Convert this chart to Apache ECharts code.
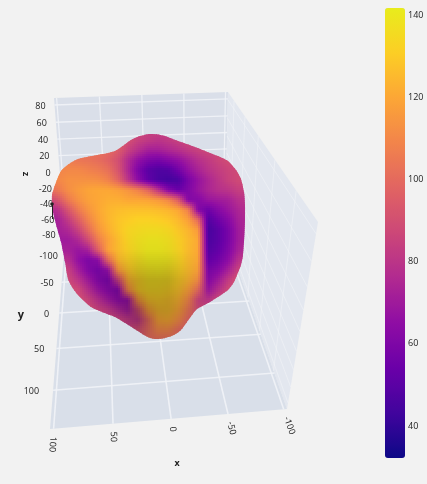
<!DOCTYPE html>
<html>
<head>
<meta charset="utf-8">
<style>
  html, body { margin: 0; padding: 0; background: #f2f2f2; }
  #chart { width: 427px; height: 484px; }
</style>
<script src="https://cdn.jsdelivr.net/npm/echarts@6/dist/echarts.min.js"></script>
</head>
<body>
<div id="chart"></div>
<script>
// tick labels
var xTicks = [100, 50, 0, -50, -100];
var yTicks = [-100, -50, 0, 50, 100];
var zTicks = [80, 60, 40, 20, 0, -20, -40, -60, -80];
var colorTicks = [40, 60, 80, 100, 120, 140];

// surface colour value, 10px apart across and down
var surfaceCols = [48, 58, 68, 78, 88, 98, 108, 118, 128, 138, 148, 158, 168, 178, 188, 198, 208, 218, 228, 238, 248];
var surfaceRows = [130, 140, 150, 160, 170, 180, 190, 200, 210, 220, 230, 240, 250, 260, 270, 280, 290, 300, 310, 320, 330, 340];
var surfaceValues = [
  [95, 95, 95, 95, 95, 95, 95, 95, 90, 88, 85, 85, 85, 88, 88, 88, 88, 88, 88, 88, 88],
  [100, 100, 100, 100, 100, 100, 100, 98, 90, 85, 82, 80, 82, 85, 88, 90, 90, 90, 90, 90, 90],
  [105, 105, 105, 105, 103, 102, 100, 95, 85, 78, 72, 72, 75, 78, 82, 85, 87, 88, 88, 88, 88],
  [106, 106, 106, 104, 103, 101, 97, 90, 76, 66, 60, 58, 62, 66, 72, 78, 82, 86, 89, 90, 90],
  [108, 109, 110, 110, 108, 106, 102, 92, 75, 60, 50, 47, 48, 56, 66, 73, 79, 83, 86, 88, 88],
  [108, 110, 113, 113, 113, 112, 108, 98, 80, 64, 52, 46, 44, 46, 58, 67, 74, 80, 85, 88, 88],
  [100, 105, 112, 116, 119, 120, 120, 118, 114, 108, 98, 80, 62, 54, 60, 68, 74, 78, 80, 84, 84],
  [85, 92, 105, 113, 118, 120, 122, 122, 120, 120, 119, 116, 110, 95, 62, 62, 68, 70, 72, 78, 80],
  [75, 78, 92, 105, 114, 120, 124, 126, 127, 127, 127, 126, 124, 120, 108, 62, 55, 62, 68, 74, 78],
  [70, 72, 82, 95, 108, 118, 124, 128, 130, 132, 132, 131, 129, 125, 118, 100, 48, 55, 62, 72, 76],
  [70, 72, 75, 85, 100, 114, 122, 128, 133, 135, 136, 136, 134, 129, 124, 116, 45, 50, 58, 70, 76],
  [70, 70, 70, 75, 88, 106, 118, 126, 133, 137, 139, 139, 137, 132, 126, 120, 46, 50, 58, 70, 76],
  [72, 72, 72, 68, 72, 95, 118, 126, 132, 137, 140, 140, 138, 133, 126, 120, 48, 52, 60, 72, 78],
  [78, 78, 78, 66, 60, 64, 100, 124, 131, 136, 140, 140, 139, 134, 126, 120, 52, 56, 64, 78, 84],
  [85, 85, 85, 72, 62, 58, 66, 115, 128, 135, 138, 139, 137, 133, 126, 118, 58, 62, 72, 85, 90],
  [88, 88, 88, 80, 70, 61, 58, 85, 122, 131, 136, 136, 135, 131, 124, 112, 62, 70, 82, 92, 92],
  [90, 90, 90, 88, 78, 68, 62, 60, 110, 130, 134, 134, 132, 128, 118, 100, 68, 78, 88, 92, 92],
  [90, 90, 90, 90, 86, 78, 70, 64, 66, 115, 128, 130, 128, 124, 110, 85, 80, 88, 92, 92, 92],
  [90, 90, 90, 90, 90, 86, 82, 75, 70, 90, 118, 126, 127, 120, 104, 88, 88, 90, 92, 92, 92],
  [90, 90, 90, 90, 90, 90, 88, 86, 82, 80, 100, 120, 122, 112, 98, 92, 92, 92, 92, 92, 92],
  [90, 90, 90, 90, 90, 90, 90, 88, 86, 90, 100, 110, 110, 100, 94, 92, 92, 92, 92, 92, 92],
  [90, 90, 90, 90, 90, 90, 90, 90, 90, 90, 100, 100, 100, 100, 92, 92, 92, 92, 92, 92, 92]
];

// how much the lower lobe is darkened by the scene light, 30px apart
var lightCols = [48, 78, 108, 138, 168, 198, 228, 258];
var lightRows = [130, 160, 190, 220, 250, 280, 310, 340];
var lightValues = [
  [1, 1, 1, 1, 1, 1, 1, 1],
  [1, 1, 1, 1, 1, 1, 1, 1],
  [1, 1, 1, 1, 1, 1, 1, 1],
  [1, 1, 1, 1, 1, 1, 1, 1],
  [1, 1, 1, 0.95, 0.95, 1, 1, 1],
  [1, 1, 0.9, 0.76, 0.76, 0.95, 1, 1],
  [1, 1, 0.9, 0.74, 0.74, 0.92, 1, 1],
  [1, 1, 1, 0.85, 0.85, 1, 1, 1]
];

// edge of the blob in the flat plot plane
var blobOutline = [
  [150, 134], [158, 134.5], [165, 136], [178, 141], [195, 147], [210, 153], [220, 157], [228, 161], [236, 170], [241, 179], [244, 192],
  [245, 205], [245, 220], [244, 242], [243, 255], [241, 265], [234, 282], [228, 290], [221, 295], [210, 302], [197, 309], [192, 315], [187, 322],
  [181, 330], [174, 335], [165, 338], [157, 339], [150, 338], [144, 335], [130, 326], [115, 317], [102, 312], [91, 307], [78, 295], [72, 287], [68, 279],
  [65, 262], [61, 242], [57, 228], [53, 212], [52, 203], [52, 195], [55, 185], [61, 171], [69, 164], [78, 159], [92, 156], [108, 153], [115, 151], [120, 148],
  [131, 140], [140, 136]
];

var plasma = ['#0d0887', '#41049d', '#6a00a8', '#8f0da4', '#b12a90', '#cc4778', '#e16462', '#f2844b', '#fca636', '#fcce25', '#e8ec1c'];
var colorMin = 32.2;
var colorMax = 141.7;

// panel corners on the page: top/back left, top/back right, bottom/front right, bottom/front left
var wallQuad = [[54, 98], [228, 92], [225, 232], [65, 240]];
var floorQuad = [[65, 240], [225, 232], [287, 409], [50, 429]];
var sideQuad = [[228, 92], [318, 222], [287, 409], [225, 232]];
var xRange = [103, -103];
var yRange = [-132, 140];
var zRange = [88, -88];

function homography(q) {
  var dx1 = q[1][0] - q[2][0], dx2 = q[3][0] - q[2][0], sx = q[0][0] - q[1][0] + q[2][0] - q[3][0];
  var dy1 = q[1][1] - q[2][1], dy2 = q[3][1] - q[2][1], sy = q[0][1] - q[1][1] + q[2][1] - q[3][1];
  var den = dx1 * dy2 - dx2 * dy1;
  var g = (sx * dy2 - dx2 * sy) / den;
  var h = (dx1 * sy - sx * dy1) / den;
  var a = q[1][0] - q[0][0] + g * q[1][0], b = q[3][0] - q[0][0] + h * q[3][0];
  var d = q[1][1] - q[0][1] + g * q[1][1], e = q[3][1] - q[0][1] + h * q[3][1];
  return function (u, v) {
    var w = g * u + h * v + 1;
    return [(a * u + b * v + q[0][0]) / w, (d * u + e * v + q[0][1]) / w];
  };
}
function frac(val, range) {
  return (val - range[0]) / (range[1] - range[0]);
}

var wallAt = homography(wallQuad);
var floorAt = homography(floorQuad);
var sideAt = homography(sideQuad);

function hexRgb(h) {
  return [parseInt(h.substr(1, 2), 16), parseInt(h.substr(3, 2), 16), parseInt(h.substr(5, 2), 16)];
}
var plasmaRgb = plasma.map(hexRgb);

function plasmaColor(val, light) {
  var t = Math.max(0, Math.min(1, (val - colorMin) / (colorMax - colorMin))) * (plasmaRgb.length - 1);
  var i = Math.min(plasmaRgb.length - 2, Math.floor(t));
  var f = t - i;
  var c = [0, 1, 2].map(function (k) {
    return Math.round((plasmaRgb[i][k] + (plasmaRgb[i + 1][k] - plasmaRgb[i][k]) * f) * light);
  });
  return 'rgb(' + c.join(',') + ')';
}

// smooth shading between the values that were read, like the lit surface
function sample(cols, rows, grid, x, y) {
  var step = cols[1] - cols[0];
  var stepY = rows[1] - rows[0];
  var cx = Math.max(0, Math.min(cols.length - 1.001, (x - cols[0]) / step));
  var cy = Math.max(0, Math.min(rows.length - 1.001, (y - rows[0]) / stepY));
  var i = Math.floor(cx), j = Math.floor(cy);
  var fx = cx - i, fy = cy - j;
  return (grid[j][i] * (1 - fx) + grid[j][i + 1] * fx) * (1 - fy) + (grid[j + 1][i] * (1 - fx) + grid[j + 1][i + 1] * fx) * fy;
}

function panel(api, quad, color) {
  return {
    type: 'polygon',
    shape: { points: quad.map(function (p) { return api.coord(p); }) },
    style: { fill: color }
  };
}
function gridLine(api, a, b, width, opacity) {
  var p = api.coord(a), q = api.coord(b);
  return {
    type: 'line',
    shape: { x1: p[0], y1: p[1], x2: q[0], y2: q[1] },
    style: { stroke: '#f1f3f7', lineWidth: width, opacity: opacity }
  };
}

function renderFrame(params, api) {
  var kids = [
    panel(api, wallQuad, '#dadfe9'),
    panel(api, sideQuad, '#e3e7ef'),
    panel(api, floorQuad, '#d9dfe9')
  ];
  xTicks.forEach(function (t) {
    var u = frac(t, xRange);
    kids.push(gridLine(api, wallAt(u, 0), wallAt(u, 1), 1.3, 0.9));
    kids.push(gridLine(api, floorAt(u, 0), floorAt(u, 1), 1.6, 0.9));
  });
  yTicks.forEach(function (t) {
    var v = frac(t, yRange);
    kids.push(gridLine(api, floorAt(0, v), floorAt(1, v), 1.6, 0.9));
    kids.push(gridLine(api, sideAt(v, 0), sideAt(v, 1), 1, 0.6));
  });
  zTicks.forEach(function (t) {
    var v = frac(t, zRange);
    kids.push(gridLine(api, wallAt(0, v), wallAt(1, v), 1.3, 0.9));
    kids.push(gridLine(api, sideAt(0, v), sideAt(1, v), 1, 0.6));
  });
  return { type: 'group', children: kids };
}

function label(api, text, at, align, rotation, font) {
  var p = api.coord(at);
  return {
    type: 'text',
    x: p[0],
    y: p[1],
    rotation: rotation || 0,
    style: { text: text, fill: '#222', font: font || '9px "Open Sans"', align: align, verticalAlign: 'middle' }
  };
}

function renderLabels(params, api) {
  var kids = [];
  zTicks.forEach(function (t) {
    var p = wallAt(0, frac(t, zRange));
    kids.push(label(api, String(t), [p[0] - 9, p[1] + 1], 'right'));
  });
  yTicks.forEach(function (t) {
    var p = floorAt(0, frac(t, yRange));
    // the gap grows towards the viewer
    kids.push(label(api, String(t), [p[0] - 10 - t * 0.04, p[1] + 1], 'right'));
  });
  xTicks.forEach(function (t) {
    var u = frac(t, xRange);
    var a = floorAt(u, 0), b = floorAt(u, 1);
    var len = Math.sqrt((b[0] - a[0]) * (b[0] - a[0]) + (b[1] - a[1]) * (b[1] - a[1]));
    var dx = (b[0] - a[0]) / len, dy = (b[1] - a[1]) / len;
    // text runs on along its grid line
    kids.push(label(api, String(t), [b[0] + dx * 8, b[1] + dy * 8], 'left', -Math.atan2(dy, dx)));
  });
  kids.push(label(api, 'x', [177, 463], 'center', 0, 'bold 9px "Open Sans"'));
  kids.push(label(api, 'y', [21, 315], 'center', 0, 'bold 11px "Open Sans"'));
  kids.push(label(api, 'z', [26, 174], 'center', -Math.PI / 2, 'bold 9px "Open Sans"'));
  return { type: 'group', children: kids };
}

function renderBlob(params, api) {
  var tiles = [];
  for (var y = 132; y < 342; y += 2) {
    for (var x = 50; x < 248; x += 2) {
      var val = sample(surfaceCols, surfaceRows, surfaceValues, x + 1, y + 1);
      var light = sample(lightCols, lightRows, lightValues, x + 1, y + 1);
      var p = api.coord([x, y]);
      tiles.push({
        type: 'rect',
        shape: { x: p[0], y: p[1], width: 2.5, height: 2.5 },
        style: { fill: plasmaColor(val, light) }
      });
    }
  }
  var clipped = {
    type: 'group',
    clipPath: {
      type: 'polygon',
      shape: { points: blobOutline.map(function (pt) { return api.coord(pt); }), smooth: 0.2 }
    },
    children: tiles
  };
  // small dark tick mark sitting on the left rim in the source image
  return {
    type: 'group',
    children: [
      clipped,
      { type: 'line', shape: { x1: 52.5, y1: 204, x2: 52.5, y2: 219 }, style: { stroke: '#222', lineWidth: 1 } },
      { type: 'circle', shape: { cx: 52, cy: 204, r: 1.8 }, style: { fill: '#222' } }
    ]
  };
}

var chart = echarts.init(document.getElementById('chart'), null, { renderer: 'canvas' });

chart.setOption({
  animation: false,
  backgroundColor: '#f2f2f2',
  grid: [
    { left: 0, top: 0, width: 427, height: 484 },
    { left: 385, top: 8, width: 20, height: 450 }
  ],
  xAxis: [
    { type: 'value', gridIndex: 0, min: 0, max: 427, show: false },
    { type: 'value', gridIndex: 1, min: 0, max: 1, show: false }
  ],
  yAxis: [
    { type: 'value', gridIndex: 0, min: 0, max: 484, inverse: true, show: false },
    {
      type: 'value',
      gridIndex: 1,
      min: colorMin,
      max: colorMax,
      position: 'right',
      axisLine: { show: false },
      axisTick: { show: false },
      splitLine: { show: false },
      axisLabel: { customValues: colorTicks, margin: 3, color: '#222', fontSize: 9, fontFamily: 'Open Sans' }
    }
  ],
  visualMap: {
    type: 'continuous',
    seriesIndex: [],
    min: colorMin,
    max: colorMax,
    left: 385,
    top: 8,
    padding: 0,
    itemWidth: 20,
    itemHeight: 450,
    calculable: false,
    hoverLink: false,
    realtime: false,
    text: null,
    showLabel: false,
    inRange: { color: plasma }
  },
  series: [
    { type: 'custom', xAxisIndex: 0, yAxisIndex: 0, data: [[0, 0]], clip: false, silent: true, z: 1, renderItem: renderFrame },
    { type: 'custom', xAxisIndex: 0, yAxisIndex: 0, data: [[0, 0]], clip: false, silent: true, z: 2, renderItem: renderLabels },
    { type: 'custom', xAxisIndex: 0, yAxisIndex: 0, data: [[0, 0]], clip: false, silent: true, z: 3, renderItem: renderBlob }
  ]
});
</script>
</body>
</html>
